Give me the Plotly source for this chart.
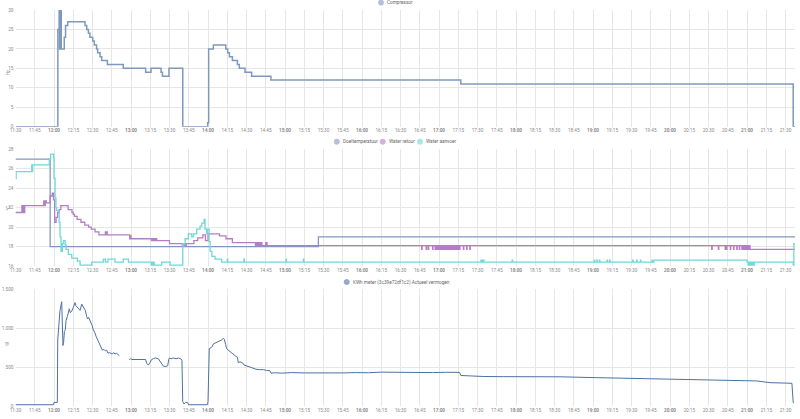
import plotly.graph_objects as go

DAY = "2024-01-01 "

def ts(lst):
    out = []
    for s in lst:
        if s is None:
            out.append(None)
            continue
        if s.count(":") == 1:
            s = s + ":00"
        out.append(DAY + s)
    return out

# ---------------- Compressor (Hz) ----------------
comp_t = ["11:30", "12:03", "12:04", "12:04:20", "12:04:40", "12:05", "12:05:20", "12:05:40",
          "12:06", "12:08", "12:09", "12:10:40", "12:24:10",
          "12:25:30", "12:26:50", "12:28", "12:30:10", "12:31:25", "12:33:10", "12:34", "12:35:50",
          "12:37:10", "12:41:35", "12:54", "13:11:25", "13:15:35", "13:23:25", "13:24:30", "13:29:35",
          "13:40:20", "13:59:45", "14:00:30", "14:04:10", "14:13:50", "14:15:20", "14:16:40", "14:19",
          "14:22:55", "14:24:25", "14:28:50", "14:34", "14:49", "17:17", "21:36", "21:37:24"]
comp_v = [0, 25, 30, 20, 30, 20, 30, 20,
          20, 23, 26, 27, 26,
          25, 24, 23, 22, 21, 20, 19, 18,
          17, 16, 15, 14, 15, 14, 13, 15,
          0, 1, 20, 21, 20, 19, 18, 17,
          16, 15, 14, 13, 12, 11, 0, 0]

# ---------------- Temperatures (°C) ----------------
doel_t = ["11:30", "11:57", "15:26", "21:37:24"]
doel_v = [27, 18, 19, 19]

retour_t = ["11:30", "11:35", "11:35:30", "11:36", "11:36:40", "11:37:10", "11:52", "11:52:40",
            "11:53:10", "11:54", "11:57", "11:58:40", "11:59:40", "12:00:30", "12:01:40", "12:02:50",
            "12:04", "12:05:20", "12:11", "12:14", "12:15", "12:16", "12:18", "12:21",
            "12:24", "12:27", "12:29", "12:32", "12:35", "12:40", "12:40:30", "12:41",
            "12:41:30", "12:59", "12:59:30", "13:00", "13:16", "13:17", "13:18", "13:19",
            "13:20", "13:30", "13:40", "13:40:30", "13:42", "13:43", "13:49", "13:52",
            "13:56", "13:58", "14:00", "14:09", "14:14", "14:19", "14:37", "14:37:30",
            "14:38", "14:39", "14:40", "14:41", "14:42", "14:45", "14:46",
            "16:46:30", "16:46:50", "16:50", "16:50:20", "16:51:40", "16:52", "16:55", "16:55:20",
            "16:57", "16:57:20", "16:58", "16:58:20", "16:59", "16:59:20", "17:00", "17:00:20",
            "17:01", "17:01:20", "17:02", "17:02:20", "17:03", "17:03:20", "17:04", "17:04:20",
            "17:05", "17:05:20", "17:06", "17:06:20", "17:07", "17:07:20", "17:08", "17:08:20",
            "17:09", "17:09:20", "17:10", "17:10:20", "17:11", "17:11:20", "17:12", "17:12:20",
            "17:13", "17:13:20", "17:14", "17:14:20", "17:15", "17:15:20", "17:16", "17:16:20",
            "17:19", "17:19:20", "17:21:30", "17:21:50", "17:24", "17:24:20",
            "20:32:30", "20:32:50", "20:37:40", "20:38", "20:43", "20:43:20", "20:44", "20:44:20",
            "20:47", "20:47:20", "20:49:30", "20:49:50", "20:52", "20:52:20", "20:54", "20:54:20",
            "20:56", "20:56:20", "20:57", "20:57:20", "20:58", "20:58:20", "20:59", "20:59:20",
            "21:00", "21:00:20", "21:01", "21:01:20", "21:02:20", "21:37:24"]
retour_v = [21.5, 22.2, 21.5, 22.2, 21.5, 22.2, 22.7, 22.2,
            22.7, 22.5, 23.2, 23.5, 22.8, 20.5, 21.0, 21.5,
            21.8, 22.2, 21.8, 21.5, 21.3, 21.1, 20.8, 20.5,
            20.2, 20.0, 19.8, 19.5, 19.2, 19.5, 19.2, 19.5,
            19.2, 18.8, 19.1, 18.8, 18.6, 18.8, 18.6, 18.8,
            18.6, 18.3, 18.1, 18.3, 18.1, 18.3, 18.6, 18.9,
            19.2, 18.6, 19.3, 19.1, 18.8, 18.4, 18.1, 18.4,
            18.1, 18.4, 18.1, 18.4, 18.1, 18.4, 18.1,
            17.7, 18.1, 17.7, 18.1, 17.7, 18.1, 17.7, 18.1,
            17.7, 18.1, 17.7, 18.1, 17.7, 18.1, 17.7, 18.1,
            17.7, 18.1, 17.7, 18.1, 17.7, 18.1, 17.7, 18.1,
            17.7, 18.1, 17.7, 18.1, 17.7, 18.1, 17.7, 18.1,
            17.7, 18.1, 17.7, 18.1, 17.7, 18.1, 17.7, 18.1,
            17.7, 18.1, 17.7, 18.1, 17.7, 18.1, 17.7, 18.1,
            17.7, 18.1, 17.7, 18.1, 17.7, 18.1,
            17.7, 18.1, 17.7, 18.1, 17.7, 18.1, 17.7, 18.1,
            17.7, 18.1, 17.7, 18.1, 17.7, 18.1, 17.7, 18.1,
            17.7, 18.1, 17.7, 18.1, 17.7, 18.1, 17.7, 18.1,
            17.7, 18.1, 17.7, 18.1, 17.7, 17.7]

aanvoer_t = ["11:30", "11:30:30", "11:42:40", "11:43", "11:43:20", "11:56:20", "11:57:20", "11:59:40",
             "12:00", "12:00:50", "12:01:30", "12:02", "12:04", "12:04:40", "12:05:30", "12:06:30",
             "12:07:20", "12:08:40", "12:09:20", "12:11:10", "12:13:50", "12:18:10", "12:20:20", "12:29:25",
             "12:38:25", "12:40", "12:42", "12:47:30", "12:54", "12:58", "13:16", "13:17",
             "13:18", "13:23:55", "13:30:25", "13:40:20", "13:42:10", "13:44:40", "13:47:20", "13:48:40",
             "13:51:10", "13:53:50", "13:55:10", "13:57", "13:57:40", "13:59", "13:59:30", "14:00:50",
             "14:01:40", "14:03", "14:05:30", "14:10:40", "14:15", "14:15:20", "14:28", "14:28:20",
             "15:00:50", "15:01:10", "15:14:20", "15:14:40", "17:32:40", "17:33", "17:33:40", "17:34",
             "17:34:40", "17:35", "17:57", "17:57:20", "19:01", "19:01:20", "19:03", "19:03:20",
             "19:05", "19:05:20", "19:11", "19:11:20", "19:13", "19:13:20", "19:31", "19:31:20",
             "19:34", "19:34:20", "19:37", "19:37:20", "19:46", "19:46:20", "19:47:30", "21:00",
             "21:01", "21:01:20", "21:02", "21:02:20", "21:03", "21:03:20", "21:04", "21:04:20",
             "21:05:30", "21:05:50", "21:36", "21:36:30", "21:37:24"]
aanvoer_v = [25.0, 25.7, 26.4, 25.7, 26.4, 27.0, 27.5, 27.2,
             25.0, 23.0, 22.0, 21.7, 20.5, 19.0, 17.5, 18.3,
             18.6, 18.2, 17.7, 17.2, 16.8, 16.5, 16.1, 16.4,
             16.7, 16.4, 16.7, 16.4, 16.7, 16.4, 16.1, 16.4,
             16.1, 16.4, 16.1, 18.3, 18.8, 19.3, 19.0, 19.3,
             19.8, 20.1, 20.4, 20.8, 19.8, 19.3, 19.8, 18.5,
             17.5, 17.0, 16.7, 16.4, 16.7, 16.4, 16.7, 16.4,
             16.7, 16.4, 16.7, 16.4, 16.6, 16.4, 16.6, 16.4,
             16.6, 16.4, 16.6, 16.4, 16.6, 16.4, 16.6, 16.4,
             16.6, 16.4, 16.6, 16.4, 16.6, 16.4, 16.6, 16.4,
             16.6, 16.4, 16.6, 16.4, 16.6, 16.4, 16.6, 16.4,
             16.1, 16.4, 16.1, 16.4, 16.1, 16.4, 16.1, 16.4,
             16.1, 16.4, 16.1, 18.3, 18.3]

# ---------------- Power (W) ----------------
pow_t = ["11:30", "11:59:30", "12:00", "12:02:36", "12:02:54", "12:03:24", "12:03:54", "12:04:42",
         "12:06", "12:06:30", "12:07", "12:07:30", "12:08:06", "12:08:48", "12:09:24", "12:10:24",
         "12:11:12", "12:11:54", "12:12:42", "12:13:48", "12:15:06", "12:16:24", "12:17:06", "12:18:12",
         "12:19:12", "12:20:18", "12:21:36", "12:22:18", "12:23:24", "12:24:24", "12:25:30", "12:26:12",
         "12:27", "12:28", "12:28:48", "12:29:36", "12:30:36", "12:31:42", "12:32:42", "12:33:48",
         "12:34:48", "12:35:36", "12:36:36", "12:37:42", "12:38:54", "12:40", "12:41", "12:42:06",
         "12:43:06", "12:44:24", "12:45:30", "12:46:30", "12:47:30", "12:48:48", "12:50:06", "12:50:54",
         "12:55", "12:58:42", "12:59:42", "13:00:48", "13:01:48", "13:11:24", "13:12:12", "13:13:30",
         "13:14:48", "13:16:06", "13:17:24", "13:19:06", "13:21:18", "13:22:36", "13:23:54", "13:25:12",
         "13:27", "13:28:36", "13:29:24", "13:29:54", "13:31:12", "13:33", "13:35:06", "13:36:54",
         "13:38:42", "13:39:42", "13:40:18", "13:41:18", "13:42:36", "13:43:54", "13:44:54", "13:59:30",
         "14:00", "14:01", "14:02:18", "14:03:24", "14:04:12", "14:05:30", "14:06:48", "14:08:06",
         "14:09:24", "14:10:36", "14:11:54", "14:12:42", "14:13:48", "14:14:30", "14:15:48", "14:17:06",
         "14:18:54", "14:20:30", "14:21:48", "14:22:54", "14:23:36", "14:24:54", "14:26:48", "14:28",
         "14:29:36", "14:31:24", "14:33:18", "14:35:24", "14:37:24", "14:40", "14:43:06", "14:45:42",
         "14:48:18", "14:49:06", "14:52", "14:58", "15:05", "15:15", "15:25", "15:35",
         "15:45", "15:55", "16:05", "16:15", "16:25", "16:35", "16:45", "16:55",
         "17:05", "17:16", "17:17", "17:25", "17:34:30", "17:50", "18:10:54", "18:35",
         "19:03", "19:30", "19:55", "20:20", "20:47", "21:07:36", "21:18", "21:27",
         "21:35", "21:36", "21:36:30"]
pow_v = [20, 20, 50, 50, 850, 950, 960, 1230,
         1340, 800, 780, 820, 960, 980, 1100, 1150,
         1210, 1250, 1200, 1220, 1270, 1330, 1290, 1270,
         1240, 1230, 1310, 1290, 1250, 1230, 1150, 1120,
         1140, 1100, 1080, 1040, 980, 950, 900, 860,
         810, 780, 760, 720, 730, 710, 720, 680,
         690, 680, 670, 690, 670, 680, 660, 650,
         None, 600, 610, 600, 600, 600, 550, 530,
         560, 600, 610, 620, 610, 580, 540, 515,
         510, 520, 600, 620, 610, 620, 610, 620,
         610, 590, 60, 30, 50, 50, 20, 20,
         60, 740, 750, 770, 800, 810, 830, 840,
         850, 850, 870, 860, 790, 740, 720, 700,
         680, 660, 640, 630, 560, 570, 560, 530,
         520, 510, 500, 490, 475, 470, 470, 460,
         455, 425, 430, 425, 432, 428, 425, 430,
         428, 432, 430, 438, 435, 432, 435, 432,
         436, 435, 395, 388, 382, 380, 380, 378,
         367, 358, 350, 345, 338, 325, 303, 298,
         295, 47, 40]

# ---------------- Axis ticks ----------------
tick_times = ["11:30", "11:45", "12:00", "12:15", "12:30", "12:45", "13:00", "13:15", "13:30", "13:45",
              "14:00", "14:15", "14:30", "14:45", "15:00", "15:15", "15:30", "15:45", "16:00", "16:15",
              "16:30", "16:45", "17:00", "17:15", "17:30", "17:45", "18:00", "18:15", "18:30", "18:45",
              "19:00", "19:15", "19:30", "19:45", "20:00", "20:15", "20:30", "20:45", "21:00", "21:15",
              "21:30"]
tick_text = [("<b>%s</b>" % t if t.endswith(":00") else t) for t in tick_times]

comp_ticks = [0, 5, 10, 15, 20, 25, 30]
temp_ticks = [16, 18, 20, 22, 24, 26, 28]
pow_ticks = [0, 500, 1000, 1500]
pow_ticktext = ["0", "500", "1.000", "1.500"]

# ---------------- Styling ----------------
W, H = 800, 419
FONT = "Roboto"
FS = 4.7
C_COMP = "#7f98bd"
C_DOEL = "#8098bd"
C_RET = "#b27fc4"
C_AAN = "#6fd8d9"
C_POW = "#4d71a0"
GRID = "#e6e6e6"

def py(p):
    return 1 - p / H

def px(p):
    return p / W

fig = go.Figure()
fig.add_trace(go.Scatter(x=ts(comp_t), y=comp_v, mode="lines", line=dict(color=C_COMP, width=1.5, shape="hv"),
                         xaxis="x", yaxis="y", showlegend=False, name="Compressor"))
fig.add_trace(go.Scatter(x=ts(doel_t), y=doel_v, mode="lines", line=dict(color=C_DOEL, width=1.3, shape="hv"),
                         xaxis="x2", yaxis="y2", showlegend=False, name="Doeltemperatuur"))
fig.add_trace(go.Scatter(x=ts(retour_t), y=retour_v, mode="lines", line=dict(color=C_RET, width=1.3, shape="hv"),
                         xaxis="x2", yaxis="y2", showlegend=False, name="Water retour"))
fig.add_trace(go.Scatter(x=ts(aanvoer_t), y=aanvoer_v, mode="lines", line=dict(color=C_AAN, width=1.3, shape="hv"),
                         xaxis="x2", yaxis="y2", showlegend=False, name="Water aanvoer"))
fig.add_trace(go.Scatter(x=ts(pow_t), y=pow_v, mode="lines", line=dict(color=C_POW, width=1.0),
                         connectgaps=False, xaxis="x3", yaxis="y3", showlegend=False,
                         name="KWh meter (3c39e72df1c2) Actueel vermogen"))

xrange = [DAY + "11:30:00", DAY + "21:37:24"]
xdom = [px(15.5), px(795)]

def xaxis_cfg(anchor):
    return dict(domain=xdom, range=xrange, type="date", tickvals=ts(tick_times), ticktext=tick_text,
                showgrid=True, gridcolor=GRID, gridwidth=1, zeroline=False, showline=False, ticks="",
                tickfont=dict(family=FONT, size=FS, color="#8a8a8a"), anchor=anchor, automargin=False,
                fixedrange=True)

def yaxis_cfg(dom, rng, tv, tt, anchor):
    return dict(domain=dom, range=rng, tickvals=tv, ticktext=tt, showgrid=True, gridcolor=GRID, gridwidth=1,
                zeroline=False, showline=False, ticks="", tickfont=dict(family=FONT, size=FS, color="#8a8a8a"),
                anchor=anchor, automargin=False, ticklabelstandoff=1)

fig.update_layout(
    width=W, height=H,
    margin=dict(l=0, r=0, t=0, b=0),
    paper_bgcolor="#ffffff", plot_bgcolor="#ffffff",
    showlegend=False,
    font=dict(family=FONT, size=FS, color="#666"),
    xaxis=xaxis_cfg("y"),
    xaxis2=xaxis_cfg("y2"),
    xaxis3=xaxis_cfg("y3"),
    yaxis=yaxis_cfg([py(126.7), py(10)], [0, 30], comp_ticks, [str(v) for v in comp_ticks], "x"),
    yaxis2=yaxis_cfg([py(266), py(149.3)], [16, 28], temp_ticks, [str(v) for v in temp_ticks], "x2"),
    yaxis3=yaxis_cfg([py(406.3), py(289.3)], [0, 1500], pow_ticks, pow_ticktext, "x3"),
)

# Axis unit labels
for txt, yy in [("Hz", 68), ("°C", 208), ("W", 348)]:
    fig.add_annotation(x=px(3), y=py(yy), xref="paper", yref="paper", text=txt, showarrow=False,
                       textangle=-90, font=dict(family=FONT, size=FS, color="#8a8a8a"))

# Legends (circle + label)
legend_items = [
    ("Compressor", C_COMP, 381, 2.6),
    ("Doeltemperatuur", C_DOEL, 336.8, 141.7),
    ("Water retour", C_RET, 382.7, 141.7),
    ("Water aanvoer", C_AAN, 420.0, 141.7),
    ("KWh meter (3c39e72df1c2) Actueel vermogen", C_POW, 346.7, 282.0),
]
r = 2.6
for name, col, cx, cy in legend_items:
    fig.add_shape(type="circle", xref="paper", yref="paper",
                  x0=px(cx - r), x1=px(cx + r), y0=py(cy + r), y1=py(cy - r),
                  fillcolor=col, opacity=0.6, line=dict(color=col, width=0.8))
    fig.add_annotation(x=px(cx + 4.3), y=py(cy), xref="paper", yref="paper", text=name, showarrow=False,
                       xanchor="left", yanchor="middle", font=dict(family=FONT, size=FS, color="#666"))

fig.write_html("out.html", config={"displayModeBar": False},
               post_script="document.body.style.margin='0';document.body.style.overflow='hidden';")
